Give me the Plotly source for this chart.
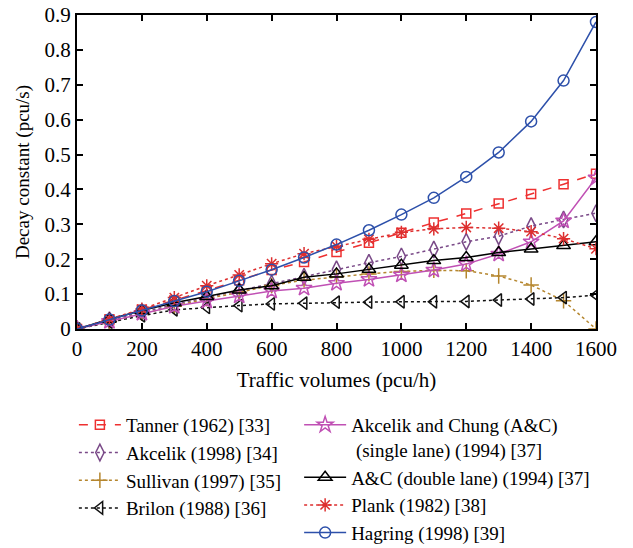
import plotly.graph_objects as go

volumes = [0, 100, 200, 300, 400, 500, 600, 700, 800, 900, 1000, 1100, 1200, 1300, 1400, 1500, 1600]

tanner = [0, 0.027, 0.055, 0.082, 0.110, 0.140, 0.169, 0.192, 0.221, 0.247, 0.276, 0.305, 0.331, 0.360, 0.387, 0.415, 0.445]
akcelik = [0, 0.025, 0.048, 0.070, 0.090, 0.110, 0.130, 0.150, 0.171, 0.190, 0.208, 0.228, 0.250, 0.266, 0.295, 0.314, 0.332]
sullivan = [0, 0.022, 0.045, 0.065, 0.087, 0.105, 0.125, 0.140, 0.150, 0.158, 0.165, 0.168, 0.167, 0.152, 0.126, 0.081, 0.0]
brilon = [0, 0.020, 0.038, 0.055, 0.062, 0.067, 0.072, 0.074, 0.077, 0.077, 0.078, 0.078, 0.079, 0.083, 0.086, 0.090, 0.097]
ac_single = [0, 0.022, 0.045, 0.065, 0.080, 0.095, 0.109, 0.117, 0.131, 0.142, 0.155, 0.169, 0.186, 0.215, 0.250, 0.310, 0.433]
ac_double = [0, 0.028, 0.053, 0.075, 0.093, 0.112, 0.124, 0.148, 0.158, 0.171, 0.183, 0.196, 0.205, 0.219, 0.229, 0.239, 0.250]
plank = [0, 0.028, 0.057, 0.090, 0.124, 0.155, 0.187, 0.216, 0.237, 0.257, 0.277, 0.287, 0.291, 0.289, 0.279, 0.259, 0.230]
hagring = [0, 0.027, 0.053, 0.080, 0.107, 0.138, 0.170, 0.205, 0.242, 0.283, 0.328, 0.376, 0.436, 0.506, 0.595, 0.712, 0.880]

x_ticks = [0, 200, 400, 600, 800, 1000, 1200, 1400, 1600]
y_ticks = [0, 0.1, 0.2, 0.3, 0.4, 0.5, 0.6, 0.7, 0.8, 0.9]
y_tick_labels = ["0", "0.1", "0.2", "0.3", "0.4", "0.5", "0.6", "0.7", "0.8", "0.9"]

FONT = "Liberation Serif, DejaVu Serif, serif"
FS = 21
LFS = 19

series = [
    ("Tanner (1962) [33]", tanner, "#ee3030", "dash", "square-open", 9, "legend"),
    ("Akcelik (1998) [34]", akcelik, "#7a4a88", "dot", "diamond-tall-open", 12, "legend"),
    ("Sullivan (1997) [35]", sullivan, "#b5862e", "dot", "cross-thin-open", 11, "legend"),
    ("Brilon (1988) [36]", brilon, "#111111", "dot", "triangle-left-open", 11, "legend"),
    ("Akcelik and Chung (A&C)<br> (single lane) (1994) [37]", ac_single, "#c050b4", "solid", "star-open", 12, "legend2"),
    ("A&C (double lane) (1994) [37]", ac_double, "#000000", "solid", "triangle-up-open", 12, "legend2"),
    ("Plank (1982) [38]", plank, "#dd2f2f", "dot", "asterisk-open", 11, "legend2"),
    ("Hagring (1998) [39]", hagring, "#2d50aa", "solid", "circle-open", 11, "legend2"),
]

fig = go.Figure()
for name, vals, color, dash, sym, size, lg in series:
    fig.add_trace(go.Scatter(
        x=volumes, y=vals, name=name, mode="lines+markers",
        line=dict(color=color, dash=dash, width=1.5),
        marker=dict(symbol=sym, size=size, color=color, line=dict(color=color, width=1.5)),
        legend=lg,
    ))

axis_common = dict(
    showline=True, linecolor="black", linewidth=2, mirror="ticks",
    ticks="inside", ticklen=6, tickwidth=1.5, tickcolor="black",
    showgrid=False, zeroline=False, automargin=False, ticklabeloverflow="allow",
    tickfont=dict(family=FONT, size=FS, color="black"),
)

fig.update_layout(
    width=633, height=548,
    margin=dict(l=77, r=37, t=15, b=219, autoexpand=False),
    plot_bgcolor="white", paper_bgcolor="white",
    font=dict(family=FONT, size=FS, color="black"),
    xaxis=dict(range=[0, 1600], tickvals=x_ticks,
               title=dict(text="Traffic volumes (pcu/h)", font=dict(family=FONT, size=FS), standoff=12),
               **axis_common),
    yaxis=dict(range=[0, 0.9], tickvals=y_ticks, ticktext=y_tick_labels,
               title=dict(text="Decay constant (pcu/s)", font=dict(family=FONT, size=19), standoff=10),
               **axis_common),
    legend=dict(x=-0.006, y=-0.245, xanchor="left", yanchor="top", itemwidth=42, valign="top",
                font=dict(family=FONT, size=LFS), bgcolor="rgba(0,0,0,0)", tracegroupgap=0),
    legend2=dict(x=0.428, y=-0.245, xanchor="left", yanchor="top", itemwidth=42, valign="top",
                 font=dict(family=FONT, size=LFS), bgcolor="rgba(0,0,0,0)", tracegroupgap=0),
    showlegend=True,
)

fig.write_html("out.html", config={"displayModeBar": False},
               post_script="document.body.style.margin='0';")
